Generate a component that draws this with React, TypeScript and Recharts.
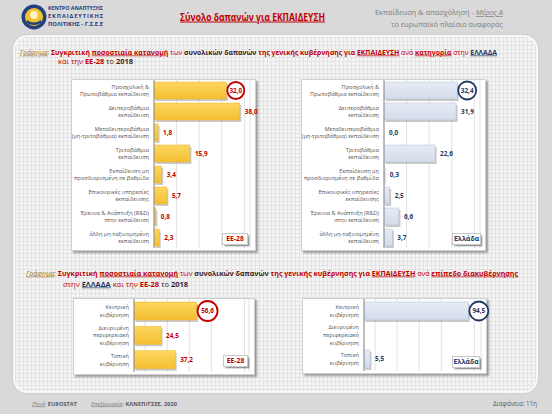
import React from "react";
import { BarChart, Bar, XAxis, YAxis, CartesianGrid, LabelList } from "recharts";

const categories = [
  "Προσχολική &\nΠρωτοβάθμια εκπαίδευση",
  "Δευτεροβάθμια\nεκπαίδευση",
  "Μεταδευτεροβάθμια\n(μη-τριτοβάθμια) εκπαίδευση",
  "Τριτοβάθμια\nεκπαίδευση",
  "Εκπαίδευση μη\nπροσδιορισμένη σε βαθμίδα",
  "Επικουρικές υπηρεσίες\nεκπαίδευσης",
  "Έρευνα & Ανάπτυξη (R&D)\nστην εκπαίδευση",
  "άλλη μη-ταξινομημένη\nεκπαίδευση",
];
const eu28ByCategory = [32.0, 38.0, 1.8, 15.9, 3.4, 5.7, 0.8, 2.3];
const greeceByCategory = [32.4, 31.9, 0.0, 22.6, 0.3, 2.5, 6.6, 3.7];

const govLevels = ["Κεντρική\nκυβέρνηση", "Διευρυμένη\nπεριφερειακή\nκυβέρνηση", "Τοπική\nκυβέρνηση"];
const eu28ByLevel = [56.6, 24.5, 37.2];
const greeceByLevel: (number | null)[] = [94.5, null, 5.5];

const catTicks = [0, 5, 10, 15, 20, 25, 30, 35, 40];
const levelTicks = [0, 10, 20, 30, 40, 50, 60, 70, 80, 90, 100];

const FONT = "'Open Sans', 'Noto Sans', 'DejaVu Sans', sans-serif";
const RED = "#C00000";
const NAVY = "#1F3864";
const DARK = "#3a1c1c";
const GOLD = "#a07a2c";
const EXTRA = 14;

const build = (names: string[], values: (number | null)[]) =>
  names.map((name, i) => ({ name, value: values[i] }));

const fmt = (v: number) => v.toFixed(1).replace(".", ",");

const makeTick = (lh: number) => (props: any) => {
  const { x, y, payload } = props;
  const lines = String(payload.value).split("\n");
  const n = lines.length;
  return (
    <text x={x} y={y} textAnchor="end" fontSize={5.6} fill="#555" fontFamily={FONT}>
      {lines.map((l, i) => (
        <tspan key={i} x={x} y={y + (i - (n - 1) / 2) * lh} dy="0.35em">
          {l}
        </tspan>
      ))}
    </text>
  );
};

const makeLabel = (color: string, r: number) => (props: any) => {
  const { x, y, width, height, value, index } = props;
  if (value == null) return null;
  const cy = Number(y) + Number(height) / 2;
  const end = Number(x) + Number(width);
  const txt = fmt(Number(value));
  if (index === 0) {
    const cx = end + r + 1;
    return (
      <g>
        <circle cx={cx} cy={cy} r={r} fill="#fff" stroke={color} strokeWidth={1.8} />
        <text x={cx} y={cy} dy="0.35em" textAnchor="middle" fontSize={6.4} fontWeight={700} fill={color} fontFamily={FONT}>
          {txt}
        </text>
      </g>
    );
  }
  return (
    <text x={end + 5} y={cy} dy="0.35em" textAnchor="start" fontSize={6.4} fontWeight={700} fill={color} fontFamily={FONT}>
      {txt}
    </text>
  );
};

const makeShape = (fillId: string, stroke: string) => (props: any) => {
  const { x, y, width, height } = props;
  if (!width || width <= 0) return <g />;
  return (
    <g>
      <rect x={x + 1.5} y={y + 2} width={width} height={height} fill="#8a8a8a" opacity={0.45} />
      <rect x={x} y={y} width={width} height={height} fill={`url(#${fillId})`} stroke={stroke} strokeWidth={0.5} />
    </g>
  );
};

type ChartProps = {
  left: number;
  top: number;
  w: number;
  h: number;
  yw: number;
  data: any[];
  domain: [number, number];
  ticks: number[];
  barSize: number;
  lh: number;
  greek: boolean;
  r: number;
  id: string;
  badge: string;
  badgeBox: { left: number; top: number; w: number; h: number };
};

const Panel = (p: ChartProps) => {
  const color = p.greek ? NAVY : RED;
  return (
    <>
      <div
        style={{
          position: "absolute",
          left: p.left,
          top: p.top,
          width: p.w,
          height: p.h,
          background: "#fff",
          border: "1px solid #cfcfcf",
          boxSizing: "border-box",
          boxShadow: "2px 2px 2px rgba(0,0,0,0.35)",
        }}
      />
      <div style={{ position: "absolute", left: p.left, top: p.top }}>
        <BarChart
          width={p.w + EXTRA}
          height={p.h}
          data={p.data}
          layout="vertical"
          margin={{ top: 1, right: 6 + EXTRA, bottom: 3, left: 0 }}
          barSize={p.barSize}
        >
          <defs>
            <linearGradient id={p.id} x1="0" y1="0" x2="0" y2="1">
              {p.greek ? (
                <>
                  <stop offset="0%" stopColor="#e6ecf5" />
                  <stop offset="100%" stopColor="#d3dcea" />
                </>
              ) : (
                <>
                  <stop offset="0%" stopColor="#FCD75E" />
                  <stop offset="100%" stopColor="#F4BE33" />
                </>
              )}
            </linearGradient>
          </defs>
          <CartesianGrid horizontal={false} stroke="#d9d9d9" strokeWidth={0.8} />
          <XAxis type="number" domain={p.domain} ticks={p.ticks} hide allowDataOverflow />
          <YAxis
            type="category"
            dataKey="name"
            width={p.yw}
            tickLine={false}
            tickSize={3}
            tickMargin={2}
            axisLine={{ stroke: "#8c8c8c", strokeWidth: 1 }}
            tick={makeTick(p.lh)}
            interval={0}
          />
          <Bar
            dataKey="value"
            isAnimationActive={false}
            shape={makeShape(p.id, p.greek ? "#b3bfd3" : "#e9b52c")}
          >
            <LabelList dataKey="value" content={makeLabel(p.greek ? NAVY : RED, p.r) as any} />
          </Bar>
        </BarChart>
      </div>
      <div
        style={{
          position: "absolute",
          left: p.badgeBox.left,
          top: p.badgeBox.top,
          width: p.badgeBox.w,
          height: p.badgeBox.h,
          background: "#fff",
          border: "1px solid #c8c8c8",
          boxSizing: "border-box",
          boxShadow: "1.5px 1.5px 1.5px rgba(0,0,0,0.4)",
          fontFamily: FONT,
          fontSize: 6.8,
          fontWeight: 700,
          color,
          lineHeight: `${p.badgeBox.h - 2}px`,
          textAlign: "center",
          whiteSpace: "nowrap",
        }}
      >
        {p.badge}
      </div>
    </>
  );
};

const T = (props: { c?: string; b?: boolean; u?: boolean; i?: boolean; children: React.ReactNode }) => (
  <tspan
    fill={props.c || RED}
    fontWeight={props.b ? 700 : 400}
    fontStyle={props.i ? "italic" : "normal"}
    style={{ textDecoration: props.u ? "underline" : "none" }}
  >
    {props.children}
  </tspan>
);

const Overlay = () => (
  <svg style={{ position: "absolute", left: 0, top: 0 }} width={552} height={414} fontFamily={FONT}>
    {/* logo */}
    <circle cx={34} cy={17} r={12.5} fill="#23407e" />
    <circle cx={34} cy={17} r={9} fill="#f2c230" />
    <circle cx={34} cy={15} r={4} fill="#fff3c4" />
    <path d="M27 20 Q34 25 41 20 L41 23 Q34 27 27 23 Z" fill="#23407e" />
    <text x={48} y={9.5} fontSize={5.6} fontWeight={700} fill="#23407e" textLength={55} lengthAdjust="spacingAndGlyphs">
      ΚΕΝΤΡΟ ΑΝΑΠΤΥΞΗΣ
    </text>
    <text x={48} y={17.5} fontSize={5.6} fontWeight={700} fill="#23407e" textLength={55} lengthAdjust="spacing">
      ΕΚΠΑΙΔΕΥΤΙΚΗΣ
    </text>
    <text x={48} y={25.5} fontSize={5.6} fontWeight={700} fill="#23407e" textLength={55} lengthAdjust="spacingAndGlyphs">
      ΠΟΛΙΤΙΚΗΣ - Γ.Σ.Ε.Ε
    </text>

    {/* main title */}
    <text x={180} y={20.5} fontSize={10} fontWeight={700} fill={RED} textLength={145} lengthAdjust="spacingAndGlyphs" style={{ textDecoration: "underline" }}>
      Σύνολο δαπανών για ΕΚΠΑΙΔΕΥΣΗ
    </text>

    {/* right header */}
    <text x={503} y={15} fontSize={7.4} fill="#7f7f7f" textAnchor="end" textLength={128} lengthAdjust="spacingAndGlyphs">
      Εκπαίδευση &amp; απασχόληση -{" "}
      <tspan fontStyle="italic" style={{ textDecoration: "underline" }}>Μέρος Α</tspan>
    </text>
    <text x={503} y={27} fontSize={6.6} fill="#7f7f7f" textAnchor="end" textLength={112} lengthAdjust="spacingAndGlyphs">
      το ευρωπαϊκό πλαίσιο αναφοράς
    </text>

    {/* section title 1 */}
    <text x={20} y={54.5} fontSize={6.8} textLength={477} lengthAdjust="spacingAndGlyphs">
      <T c={GOLD} i u>Γράφημα</T>
      <T c={GOLD} i>: </T>
      <T b>Συγκριτική </T>
      <T b u>ποσοστιαία κατανομή</T>
      <T> των </T>
      <T c={DARK} b>συνολικών δαπανών </T>
      <T b>της γενικής κυβέρνησης για </T>
      <T b u>ΕΚΠΑΙΔΕΥΣΗ</T>
      <T> ανά </T>
      <T b u>κατηγορία</T>
      <T> στην </T>
      <T c={NAVY} b u>ΕΛΛΑΔΑ</T>
    </text>
    <text x={58} y={64} fontSize={6.8} textLength={75} lengthAdjust="spacingAndGlyphs">
      <T>και την </T>
      <T b>ΕΕ-28</T>
      <T c={DARK}> το </T>
      <T c={DARK} b>2018</T>
    </text>

    {/* section title 2 */}
    <text x={26} y={275.5} fontSize={6.8} textLength={492} lengthAdjust="spacingAndGlyphs">
      <T c={GOLD} i u>Γράφημα</T>
      <T c={GOLD} i>: </T>
      <T b>Συγκριτική </T>
      <T b u>ποσοστιαία κατανομή</T>
      <T> των </T>
      <T c={DARK} b>συνολικών δαπανών </T>
      <T b>της γενικής κυβέρνησης για </T>
      <T b u>ΕΚΠΑΙΔΕΥΣΗ</T>
      <T> ανά </T>
      <T b u>επίπεδο διακυβέρνησης</T>
    </text>
    <text x={63} y={286.5} fontSize={6.8} textLength={125} lengthAdjust="spacingAndGlyphs">
      <T>στην </T>
      <T c={NAVY} b u>ΕΛΛΑΔΑ</T>
      <T> και την </T>
      <T b>ΕΕ-28</T>
      <T c={DARK}> το </T>
      <T c={DARK} b>2018</T>
    </text>

    {/* footer */}
    <text x={32} y={405.5} fontSize={5.8} fill="#7f7f7f" textLength={45} lengthAdjust="spacingAndGlyphs">
      <tspan fontStyle="italic" style={{ textDecoration: "underline" }}>Πηγή</tspan>
      <tspan>: </tspan>
      <tspan fontWeight={700} fill="#595959">EUROSTAT</tspan>
    </text>
    <text x={91} y={405.5} fontSize={5.8} fill="#7f7f7f" textLength={86} lengthAdjust="spacingAndGlyphs">
      <tspan fontStyle="italic" style={{ textDecoration: "underline" }}>Επεξεργασία</tspan>
      <tspan>: </tspan>
      <tspan fontWeight={700} fill="#595959">ΚΑΝΕΠ/ΓΣΕΕ, 2020</tspan>
    </text>
    <text x={537} y={405.5} fontSize={6.2} fill="#595959" textAnchor="end" textLength={44} lengthAdjust="spacingAndGlyphs">
      Διαφάνεια: 11η
    </text>
  </svg>
);

export default function App() {
  return (
    <div
      style={{
        position: "absolute",
        left: 0,
        top: 0,
        width: 552,
        height: 414,
        background: "#d9d9d9",
        overflow: "hidden",
        fontFamily: FONT,
      }}
    >
      {/* panel */}
      <div
        style={{
          position: "absolute",
          left: 13,
          top: 35,
          width: 525,
          height: 358,
          borderRadius: 14,
          backgroundColor: "#f5f5f5",
          backgroundImage:
            "linear-gradient(#e3e3e3 1px, transparent 1px), linear-gradient(90deg, #e3e3e3 1px, transparent 1px)",
          backgroundSize: "4px 4px",
          border: "2px solid #f8f8f8",
          boxSizing: "border-box",
          boxShadow: "0 0 2px rgba(0,0,0,0.15)",
        }}
      />

      <Overlay />

      <Panel
        left={71}
        top={79}
        w={185}
        h={172}
        yw={83}
        data={build(categories, eu28ByCategory)}
        domain={[0, 42.5]}
        ticks={catTicks}
        barSize={17}
        lh={7}
        greek={false}
        r={8.5}
        id="g1"
        badge="ΕΕ-28"
        badgeBox={{ left: 222, top: 233, w: 26, h: 12 }}
      />
      <Panel
        left={301}
        top={79}
        w={185}
        h={172}
        yw={83}
        data={build(categories, greeceByCategory)}
        domain={[0, 42.5]}
        ticks={catTicks}
        barSize={17}
        lh={7}
        greek={true}
        r={9}
        id="g2"
        badge="Ελλάδα"
        badgeBox={{ left: 452, top: 233, w: 29, h: 12 }}
      />
      <Panel
        left={73}
        top={298}
        w={182}
        h={77}
        yw={61}
        data={build(govLevels, eu28ByLevel)}
        domain={[0, 104]}
        ticks={levelTicks}
        barSize={18}
        lh={7.6}
        greek={false}
        r={10}
        id="g3"
        badge="ΕΕ-28"
        badgeBox={{ left: 223, top: 355, w: 25, h: 12 }}
      />
      <Panel
        left={302}
        top={298}
        w={185}
        h={76}
        yw={62}
        data={build(govLevels, greeceByLevel)}
        domain={[0, 106]}
        ticks={levelTicks}
        barSize={18}
        lh={7.6}
        greek={true}
        r={9.5}
        id="g4"
        badge="Ελλάδα"
        badgeBox={{ left: 452, top: 356, w: 28, h: 12 }}
      />
    </div>
  );
}
